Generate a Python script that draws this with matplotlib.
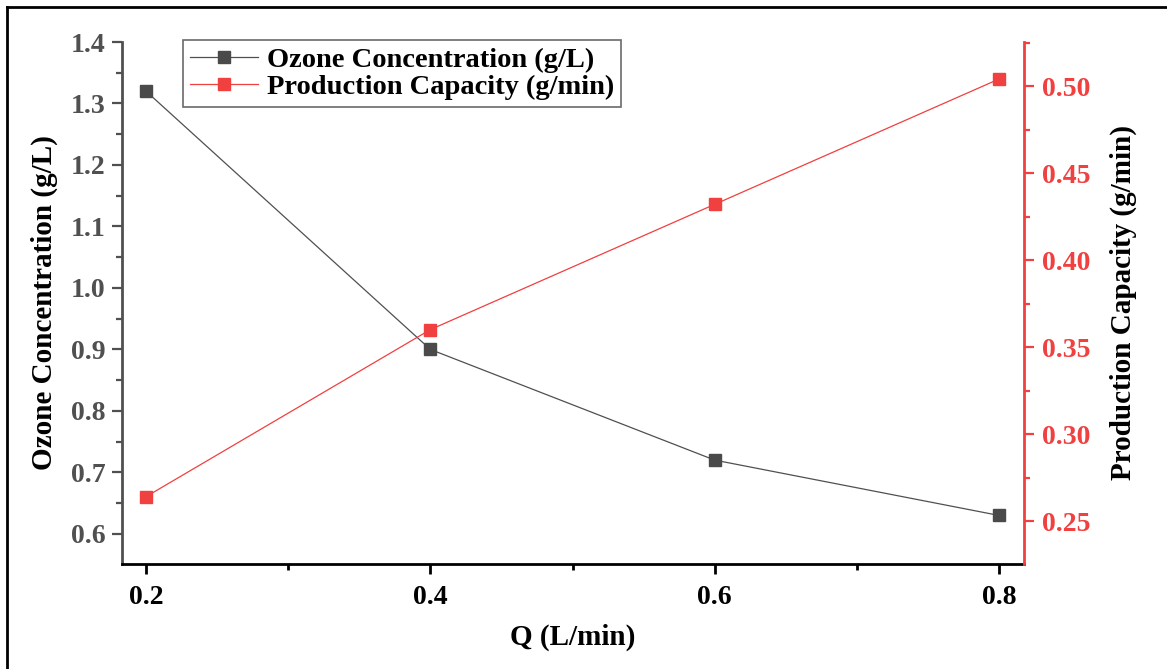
import matplotlib
matplotlib.use("Agg")
import matplotlib.pyplot as plt
from matplotlib.lines import Line2D
from matplotlib.ticker import MultipleLocator

q = [0.2, 0.4, 0.6, 0.8]
ozone = [1.32, 0.90, 0.72, 0.63]
capacity = [0.264, 0.360, 0.432, 0.504]
x_ticks = [0.2, 0.4, 0.6, 0.8]
left_ticks = [0.6, 0.7, 0.8, 0.9, 1.0, 1.1, 1.2, 1.3, 1.4]
right_ticks = [0.25, 0.30, 0.35, 0.40, 0.45, 0.50]

plt.rcParams['font.family'] = ['Liberation Serif', 'DejaVu Serif']
plt.rcParams['font.weight'] = 'bold'

GRAY = '#505050'
RED = '#f04040'

fig = plt.figure(figsize=(11.67, 6.69), dpi=100)
ax = fig.add_axes([122/1167, 1-564/669, (1024-122)/1167, (564-42)/669])
ax2 = ax.twinx()

l1, = ax.plot(q, ozone, color=GRAY, lw=0.9, marker='s', ms=9, mfc='#4a4a4a', mec='#4a4a4a', label='Ozone Concentration (g/L)')
l2, = ax2.plot(q, capacity, color=RED, lw=0.9, marker='s', ms=9, mfc=RED, mec=RED, label='Production Capacity (g/min)')

ax.set_xlim(0.1831, 0.8176)
ax.set_ylim(0.551, 1.4)
ax2.set_ylim(0.2253, 0.5253)

ax.set_xticks(x_ticks)
ax.set_xticklabels([f'{v:.1f}' for v in x_ticks])
ax.xaxis.set_minor_locator(MultipleLocator(0.1))
ax.set_yticks(left_ticks)
ax.set_yticklabels([f'{v:.1f}' for v in left_ticks])
ax.yaxis.set_minor_locator(MultipleLocator(0.05))
ax2.set_yticks(right_ticks)
ax2.set_yticklabels([f'{v:.2f}' for v in right_ticks])
ax2.yaxis.set_minor_locator(MultipleLocator(0.025))

for a in (ax, ax2):
    a.spines['top'].set_visible(False)
ax.spines['right'].set_visible(False)
ax2.spines['left'].set_visible(False)
ax2.spines['bottom'].set_visible(False)
ax.spines['left'].set_color(GRAY)
ax.spines['left'].set_linewidth(2)
ax.spines['bottom'].set_color('black')
ax.spines['bottom'].set_linewidth(2)
ax2.spines['right'].set_color(RED)
ax2.spines['right'].set_linewidth(2)

ax.tick_params(axis='x', which='major', direction='out', length=7, width=2, colors='black', labelsize=20, pad=8)
ax.tick_params(axis='x', which='minor', direction='out', length=4, width=2, colors='black')
ax.tick_params(axis='y', which='major', direction='out', length=7, width=1.6, colors=GRAY, labelsize=20, pad=5)
ax.tick_params(axis='y', which='minor', direction='out', length=4, width=1.6, colors=GRAY)
ax2.tick_params(axis='y', which='major', direction='out', length=7, width=1.6, colors=RED, labelsize=20, pad=6)
ax2.tick_params(axis='y', which='minor', direction='out', length=4, width=1.6, colors=RED)
for lab in ax.get_xticklabels() + ax.get_yticklabels() + ax2.get_yticklabels():
    lab.set_fontweight('bold')

ax.set_xlabel('Q (L/min)', fontsize=21, fontweight='bold', labelpad=10)
ax.set_ylabel('Ozone Concentration (g/L)', fontsize=21, fontweight='bold', labelpad=9)
ax2.set_ylabel('Production Capacity (g/min)', fontsize=21, fontweight='bold', labelpad=14)

leg = ax.legend(handles=[l1, l2], loc='upper left', bbox_to_anchor=((183-122)/902, 1.004),
                fontsize=20.5, frameon=True, fancybox=False, edgecolor='#444444',
                handlelength=2.4, handletextpad=0.3, borderpad=0.25, labelspacing=0.05, borderaxespad=0)
leg.get_frame().set_linewidth(1.2)
for t in leg.get_texts():
    t.set_fontweight('bold')

fig.add_artist(Line2D([7/1167, 7/1167], [0, 1-7/669], transform=fig.transFigure, color='black', lw=2))
fig.add_artist(Line2D([7/1167, 1], [1-7/669, 1-7/669], transform=fig.transFigure, color='black', lw=2))

fig.savefig('out.png', dpi=100)
